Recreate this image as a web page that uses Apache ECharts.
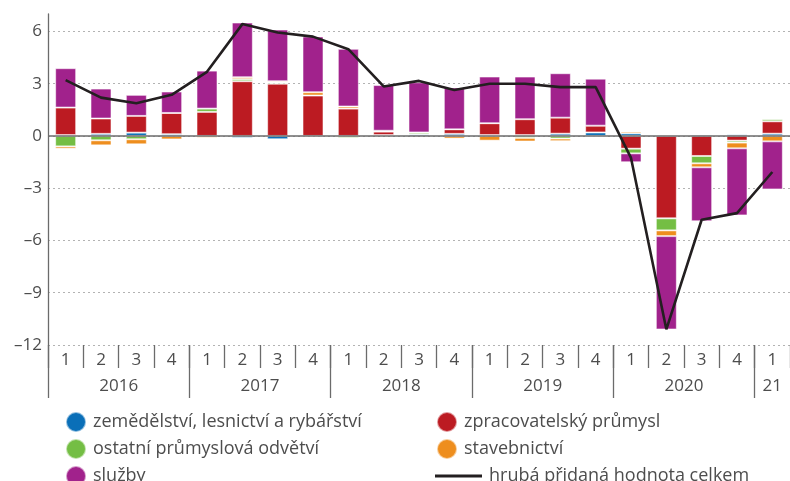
<!DOCTYPE html>
<html>
<head>
<meta charset="utf-8">
<script src="https://cdn.jsdelivr.net/npm/echarts@6/dist/echarts.min.js"></script>
<style>
  html, body { margin: 0; padding: 0; background: #fff; }
  #chart { width: 790px; height: 481px; }
</style>
</head>
<body>
<div id="chart"></div>
<script>
// Quarterly contributions to gross value added growth (percentage points)
const quarters = ['1','2','3','4','1','2','3','4','1','2','3','4','1','2','3','4','1','2','3','4','1'];
const years = ['2016', '2017', '2018', '2019', '2020', '21'];
const yearCenters = [1.5, 5.5, 9.5, 13.5, 17.5, 20];
const yearBounds = [-0.5, 3.5, 7.5, 11.5, 15.5, 19.5];
const yTicks = [-12, -9, -6, -3, 0, 3, 6];

const agriculture   = [0.05, 0.12, 0.19, 0.10, 0, -0.11, -0.19, 0, 0, 0.05, 0.10, 0.12, 0.05, 0.05, 0.13, 0.20, 0.15, 0, 0.08, 0.09, 0.13];
const manufacturing = [1.58, 0.88, 0.96, 1.22, 1.38, 3.14, 3.00, 2.32, 1.57, 0.20, 0, 0.26, 0.68, 0.91, 0.92, 0.39, -0.73, -4.73, -1.15, -0.27, 0.71];
const otherIndustry = [-0.60, -0.25, -0.19, 0, 0.19, 0.12, 0.07, 0, -0.11, 0, 0.10, 0, 0, -0.11, -0.15, 0, -0.27, -0.69, -0.42, -0.11, 0.12];
const construction  = [-0.13, -0.29, -0.29, -0.20, -0.10, 0.11, 0.07, 0.19, 0.12, 0.05, 0, -0.15, -0.27, -0.21, -0.15, -0.05, 0.10, -0.33, -0.23, -0.33, -0.31];
const services      = [2.26, 1.72, 1.21, 1.23, 2.18, 3.14, 2.97, 3.20, 3.31, 2.62, 2.88, 2.40, 2.68, 2.45, 2.55, 2.70, -0.51, -5.36, -3.10, -3.85, -2.76];
const totalGVA      = [3.2, 2.2, 1.88, 2.36, 3.68, 6.42, 5.94, 5.7, 4.98, 2.84, 3.16, 2.64, 3.0, 3.0, 2.8, 2.8, -1.26, -11.1, -4.81, -4.43, -2.07];

const names = {
  agri: 'zemědělství, lesnictví a rybářství',
  manuf: 'zpracovatelský průmysl',
  other: 'ostatní průmyslová odvětví',
  constr: 'stavebnictví',
  serv: 'služby',
  total: 'hrubá přidaná hodnota celkem'
};

const FONT = 'Open Sans';
const TEXT = '#4d4d4d';
const AXIS = '#6b6b6b';

function barSeries(name, data, color) {
  return {
    name: name,
    type: 'bar',
    stack: 'gva',
    data: data,
    barWidth: 21,
    itemStyle: { color: color, borderColor: 'rgba(255,255,255,0.55)', borderWidth: 1 },
    emphasis: { disabled: true }
  };
}

const legendBase = {
  orient: 'vertical',
  icon: 'circle',
  itemWidth: 20,
  itemHeight: 20,
  itemGap: 5,
  height: 90,
  padding: 0,
  textStyle: { fontFamily: FONT, fontSize: 18, color: TEXT, padding: [0, 0, 0, 2] },
  selectedMode: false
};

const chart = echarts.init(document.getElementById('chart'), null, { renderer: 'canvas' });
chart.setOption({
  animation: false,
  textStyle: { fontFamily: FONT },
  grid: { left: 48, right: 0, top: 14, bottom: 136, containLabel: false },
  legend: [
    Object.assign({}, legendBase, { left: 65, top: 411, data: [names.agri, names.other, names.serv] }),
    Object.assign({}, legendBase, { left: 436, top: 411, data: [names.manuf, names.constr] }),
    Object.assign({}, legendBase, {
      left: 435, top: 467, itemWidth: 47, itemHeight: 3, height: 20,
      data: [{ name: names.total, icon: 'rect' }]
    })
  ],
  xAxis: [
    {
      type: 'category',
      data: quarters,
      position: 'bottom',
      axisLine: { show: false, onZero: false },
      axisTick: { show: true, interval: 0, length: 23, lineStyle: { color: AXIS, width: 1.3 } },
      axisLabel: { interval: 0, margin: 7, fontFamily: FONT, fontSize: 17, color: TEXT }
    },
    {
      type: 'value',
      min: -0.5,
      max: 20.5,
      position: 'bottom',
      axisLine: { show: false, onZero: false },
      splitLine: { show: false },
      axisTick: { show: true, customValues: yearBounds, length: 53, lineStyle: { color: AXIS, width: 1.3 } },
      axisLabel: {
        customValues: yearCenters,
        margin: 33,
        fontFamily: FONT, fontSize: 17, color: TEXT,
        formatter: function (v) {
          const i = yearCenters.indexOf(v);
          return i >= 0 ? years[i] : '';
        }
      }
    }
  ],
  yAxis: {
    type: 'value',
    min: -12,
    max: 7,
    interval: 3,
    axisLine: { show: true, onZero: false, lineStyle: { color: AXIS, width: 1.3 } },
    axisTick: { show: false },
    axisLabel: {
      margin: 6,
      fontFamily: FONT, fontSize: 17, color: TEXT,
      showMaxLabel: false,
      formatter: function (v) {
        if (yTicks.indexOf(v) < 0) return '';
        return v < 0 ? '\u2013' + Math.abs(v) : String(v);
      }
    },
    splitLine: { show: true, showMaxLine: false, lineStyle: { color: '#b3b3b3', type: [2, 3], width: 1 } }
  },
  series: [
    barSeries(names.agri, agriculture, '#0a6fb8'),
    barSeries(names.manuf, manufacturing, '#bc1b22'),
    barSeries(names.other, otherIndustry, '#74be44'),
    barSeries(names.constr, construction, '#ee8e1e'),
    barSeries(names.serv, services, '#a1228c'),
    {
      name: names.total,
      type: 'line',
      data: totalGVA,
      showSymbol: false,
      symbol: 'none',
      lineStyle: { color: '#231f20', width: 2.6 },
      itemStyle: { color: '#231f20' },
      z: 5,
      markLine: {
        silent: true,
        symbol: 'none',
        label: { show: false },
        lineStyle: { color: '#6b6b6b', type: 'solid', width: 1.5 },
        data: [{ yAxis: 0 }]
      }
    }
  ]
});
</script>
</body>
</html>
